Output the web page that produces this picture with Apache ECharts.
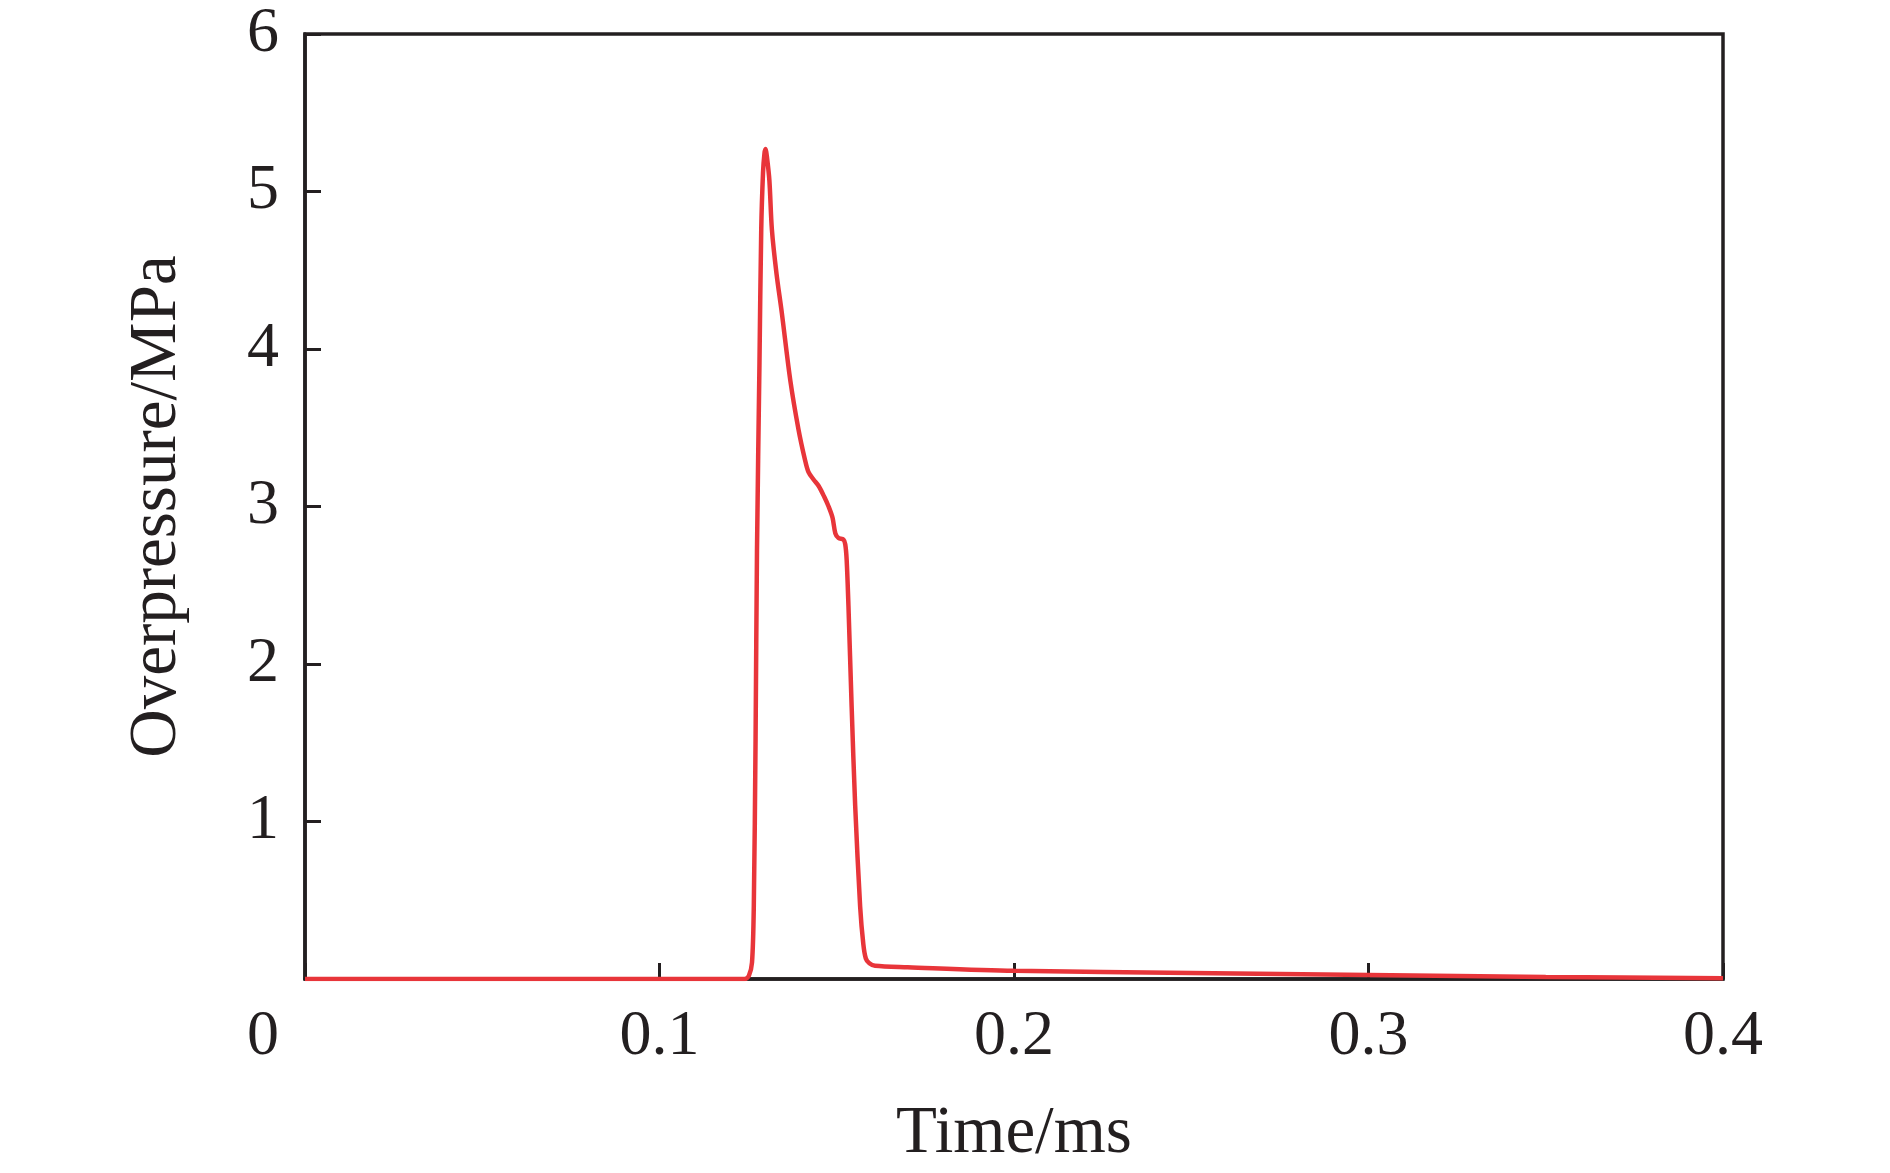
<!DOCTYPE html>
<html>
<head>
<meta charset="utf-8">
<script src="https://cdn.jsdelivr.net/npm/echarts@6/dist/echarts.min.js"></script>
<style>
  html, body { margin: 0; padding: 0; background: #fff; }
  #main { width: 1890px; height: 1173px; }
</style>
</head>
<body>
<div id="main"></div>
<script>
// time in ms
var times = [0, 0.05, 0.1, 0.124, 0.1252, 0.1261, 0.1266, 0.1271, 0.1275, 0.1282, 0.1287, 0.1292, 0.1296, 0.1299,
    0.1303, 0.1310, 0.1317, 0.1330, 0.1345, 0.1369, 0.1392, 0.1410, 0.1420, 0.1435, 0.1449, 0.1465, 0.1477,
    0.1488, 0.1496, 0.1505, 0.1519, 0.1524, 0.1528, 0.1533, 0.1542, 0.1552, 0.1566, 0.1575, 0.1582, 0.1592,
    0.1608, 0.17, 0.2, 0.25, 0.3, 0.35, 0.4];
// overpressure in MPa
var pressures = [0, 0, 0, 0, 0.02, 0.106, 0.46, 1.52, 2.72, 3.91, 4.76, 5.12, 5.24, 5.27,
    5.22, 5.07, 4.76, 4.48, 4.23, 3.80, 3.49, 3.30, 3.22, 3.17, 3.13, 3.06, 3.00,
    2.93, 2.83, 2.80, 2.79, 2.76, 2.66, 2.37, 1.73, 1.10, 0.46, 0.22, 0.13, 0.10,
    0.084, 0.075, 0.052, 0.038, 0.025, 0.013, 0.005];

var xTicks = [0, 0.1, 0.2, 0.3, 0.4];
var yTicks = [0, 1, 2, 3, 4, 5, 6];

var ink = '#231f20';
var font = '"Liberation Serif", "Times New Roman", serif';

var points = [];
for (var i = 0; i < times.length; i++) {
    points.push([times[i], pressures[i]]);
}

var myChart = echarts.init(document.getElementById('main'));
var option = {
    animation: false,
    backgroundColor: '#fff',
    grid: {
        left: 305, right: 167, top: 34, bottom: 193,
        show: true,
        borderColor: ink,
        borderWidth: 3.5
    },
    xAxis: {
        type: 'value',
        min: xTicks[0],
        max: xTicks[xTicks.length - 1],
        interval: 0.1,
        name: 'Time/ms',
        nameLocation: 'middle',
        nameGap: 122,
        nameTextStyle: {fontFamily: font, fontSize: 67, color: ink},
        axisLine: {show: true, lineStyle: {color: ink, width: 3.5}},
        axisTick: {show: true, inside: true, length: 16, lineStyle: {color: ink, width: 3}},
        splitLine: {show: false},
        axisLabel: {
            margin: 26,
            fontFamily: font, fontSize: 64, color: ink,
            formatter: function (v) {
                if (v === 0) return '{z|0}';
                return String(v);
            },
            rich: {
                z: {fontFamily: font, fontSize: 64, color: ink, padding: [0, 84, 0, 0]}
            }
        }
    },
    yAxis: {
        type: 'value',
        min: yTicks[0],
        max: yTicks[yTicks.length - 1],
        interval: 1,
        name: 'Overpressure/MPa',
        nameLocation: 'middle',
        nameGap: 114,
        nameTextStyle: {fontFamily: font, fontSize: 67, color: ink},
        axisLine: {show: true, lineStyle: {color: ink, width: 3.5}},
        axisTick: {show: true, inside: true, length: 16, lineStyle: {color: ink, width: 3}},
        splitLine: {show: false},
        axisLabel: {
            margin: 26,
            fontFamily: font, fontSize: 64, color: ink,
            formatter: function (v) { return v === 0 ? '' : String(v); }
        }
    },
    series: [{
        type: 'line',
        data: points,
        showSymbol: false,
        symbol: 'none',
        smooth: 0.3,
        lineStyle: {color: '#e8353a', width: 4.5},
        z: 5
    }]
};
myChart.setOption(option);
</script>
</body>
</html>
